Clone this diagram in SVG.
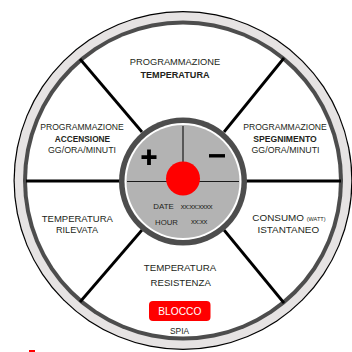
<svg xmlns="http://www.w3.org/2000/svg" width="352" height="352" viewBox="0 0 352 352">
<style>
.t{font-family:"Liberation Sans",Arial,sans-serif;fill:#231f20;text-anchor:middle}
.b{font-weight:bold}
.spoke{stroke:#000;stroke-width:2.8;fill:none}
</style>
<rect width="352" height="352" fill="#fff"/>
<g id="frame">
<circle cx="183" cy="180.5" r="169.5" fill="#000"/>
<circle cx="183" cy="180.5" r="168.3" fill="#e6e3e3"/>
<circle cx="183" cy="180.5" r="160" fill="#4d4d4d"/>
<circle cx="183" cy="180.5" r="156" fill="#fff"/>
</g>
<g id="connectors">
<line class="spoke" x1="26" y1="181" x2="120" y2="181"/>
<line class="spoke" x1="246" y1="181" x2="341" y2="181"/>
<line class="spoke" x1="142" y1="132" x2="80" y2="59"/>
<line class="spoke" x1="224" y1="132" x2="284" y2="58"/>
<line class="spoke" x1="142" y1="230" x2="80" y2="302"/>
<line class="spoke" x1="224" y1="230" x2="284" y2="303"/>
</g>
<g id="center">
<circle cx="183" cy="181.5" r="64" fill="#4d4d4d"/>
<circle cx="183" cy="181.5" r="58.5" fill="#fff"/>
<circle cx="183" cy="181.5" r="56.5" fill="#b3b3b3"/>
<line x1="183" y1="126" x2="183" y2="170" stroke="#1a1a1a" stroke-width="1.2"/>
<line x1="127" y1="181.5" x2="239" y2="181.5" stroke="#1a1a1a" stroke-width="1.2"/>
<circle cx="183" cy="178.5" r="17" fill="#f00"/>
<path d="M141.5 157.2H156.5M149 149.5V165" stroke="#000" stroke-width="3.8"/>
<path d="M209 155.8H225" stroke="#000" stroke-width="3.4"/>
<text class="t" x="163.5" y="209" font-size="7.9">DATE</text>
<text class="t" x="196.5" y="208.5" font-size="7.6" letter-spacing="-0.3">xx:xx:xxxx</text>
<text class="t" x="166.5" y="224.5" font-size="7.8">HOUR</text>
<text class="t" x="199" y="224" font-size="7.6" letter-spacing="-0.3">xx:xx</text>
</g>
<g id="prog-temp">
<text class="t" x="175" y="65" font-size="9.3">PROGRAMMAZIONE</text>
<text class="t b" x="175" y="78" font-size="9.1">TEMPERATURA</text>
</g>
<g id="prog-accensione">
<text class="t" x="82" y="130" font-size="8.6">PROGRAMMAZIONE</text>
<text class="t b" x="82.5" y="141.5" font-size="8.3">ACCENSIONE</text>
<text class="t" x="82" y="153" font-size="8.8">GG/ORA/MINUTI</text>
</g>
<g id="prog-spegnimento">
<text class="t" x="285" y="130" font-size="8.6">PROGRAMMAZIONE</text>
<text class="t b" x="285" y="141.5" font-size="8.6">SPEGNIMENTO</text>
<text class="t" x="285.5" y="153" font-size="8.8">GG/ORA/MINUTI</text>
</g>
<g id="temp-rilevata">
<text class="t" x="77.3" y="221.5" font-size="9.5">TEMPERATURA</text>
<text class="t" x="77" y="233.2" font-size="9.1">RILEVATA</text>
</g>
<g id="consumo">
<text class="t" x="289" y="221.3" font-size="9.9">CONSUMO <tspan font-size="5.6">(WATT)</tspan></text>
<text class="t" x="288.3" y="233.3" font-size="9.9">ISTANTANEO</text>
</g>
<g id="temp-resistenza">
<text class="t" x="180" y="271" font-size="9.7">TEMPERATURA</text>
<text class="t" x="180.7" y="286" font-size="9.6">RESISTENZA</text>
</g>
<g id="blocco">
<rect x="149" y="301" width="61.5" height="20" rx="4" fill="#f00"/>
<text class="t" x="179.8" y="315" font-size="10.2" style="fill:#fff">BLOCCO</text>
</g>
<g id="spia">
<text class="t" x="179.5" y="334.3" font-size="8.4">SPIA</text>
</g>
<rect x="29" y="350" width="6" height="2" fill="#f00"/>
</svg>
